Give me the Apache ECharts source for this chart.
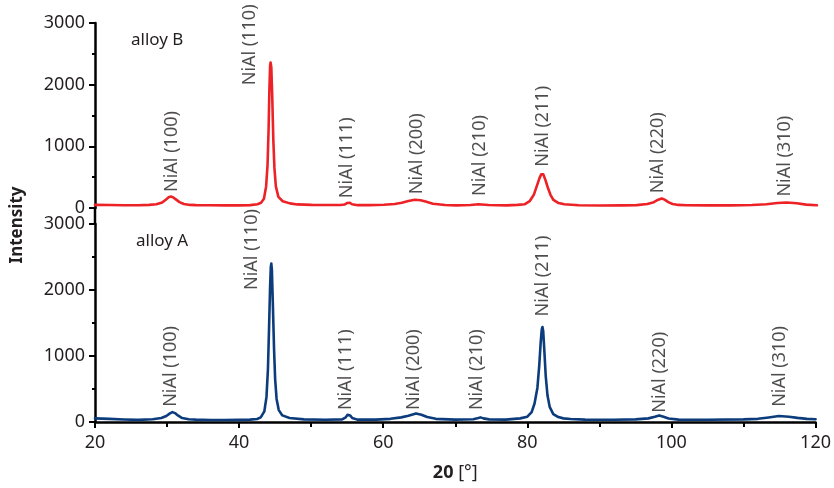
<!DOCTYPE html>
<html>
<head>
<meta charset="utf-8">
<script src="https://cdn.jsdelivr.net/npm/echarts@6/dist/echarts.min.js"></script>
<style>
html,body{margin:0;padding:0;background:#fff;}
#chart{width:834px;height:488px;}
</style>
</head>
<body>
<div id="chart"></div>
<script>
// ---- data (2θ in degrees, intensity) ----
const alloyB = [
  [20,50],[22,48],[24,45],[26,44],[27.5,50],[28.5,60],[29.3,90],[29.8,135],[30.2,175],[30.5,185],[30.8,175],[31.2,140],[31.7,95],[32.3,65],[33.2,50],
  [34,46],[36,44],[38,42],[40,42],[41.5,46],[42.5,60],[43,85],[43.4,150],[43.7,350],[43.9,700],[44.05,1300],[44.15,1900],[44.25,2300],[44.32,2360],
  [44.42,2280],[44.55,1800],[44.7,1100],[44.85,650],[45.05,350],[45.4,180],[46,110],[47,75],[48,58],
  [50,50],[52,48],[54,48],[54.6,58],[54.9,80],[55.1,105],[55.3,85],[55.6,60],[56.4,46],[58,46],[60,52],[61.5,65],[62.5,85],[63.4,115],[64.3,135],
  [65.1,125],[65.9,100],[66.8,70],[68.5,48],[70,42],[72,48],[73.1,60],[74.5,48],[77,42],[78.5,50],
  [79.5,60],[80.2,110],[80.8,220],[81.2,360],[81.55,480],[81.8,545],[81.95,565],[82.1,545],[82.4,450],[82.75,320],[83.1,210],[83.5,130],[84.2,80],[85,60],[87,45],
  [90,40],[93,42],[95,46],[96.5,65],[97.4,95],[98.0,135],[98.5,155],[98.9,135],[99.4,95],[100,65],[100.8,50],[102,45],[105,42],[108,42],[111,48],[113,62],
  [114.5,80],[115.8,90],[117.2,78],[118.5,55],[120,45]
];
const alloyA = [
  [20,55],[22,48],[24,38],[26,32],[28,42],[29.2,60],[29.9,90],[30.4,130],[30.75,150],[31.1,135],[31.5,100],[32.1,60],[33,42],[34,36],[36,30],[38,30],[40,32],
  [41.5,36],[42.5,45],[43,70],[43.5,160],[43.8,380],[44.0,800],[44.15,1400],[44.3,2050],[44.4,2350],[44.47,2400],[44.55,2300],[44.68,1800],
  [44.85,1100],[45.0,650],[45.2,350],[45.5,180],[46,100],[47,60],[49,40],
  [52,34],[54.3,40],[54.8,70],[55.05,110],[55.2,130],[55.4,100],[55.7,60],[56.4,36],[59,36],[61,48],[62.5,70],[63.5,95],[64.55,130],[65.3,110],
  [66.1,75],[67.3,48],[70,36],[72.5,42],[73.2,60],[73.5,70],[73.9,55],[74.7,40],[77,36],[79,55],
  [80,80],[80.6,150],[81,280],[81.4,520],[81.65,850],[81.85,1200],[82.0,1400],[82.1,1440],[82.2,1380],[82.35,1100],[82.55,700],[82.8,400],
  [83.1,230],[83.6,120],[84.3,75],[85,55],[86,46],[88,36],[92,35],[95,40],[96.8,55],[97.7,80],[98.3,100],[98.9,80],[99.6,52],[101,36],
  [105,35],[110,40],[112,48],[113.5,68],[114.9,90],[116.3,80],[117.5,62],[118.8,48],[120,42]
];
const hklLabels = ['NiAl (100)','NiAl (110)','NiAl (111)','NiAl (200)','NiAl (210)','NiAl (211)','NiAl (220)','NiAl (310)'];
const labelAngleB = [30.7, 41.5, 54.9, 64.6, 73.3, 82.05, 98.0, 115.6];
const labelBaseB  = [260, 1990, 160, 225, 195, 670, 240, 185];
const labelAngleA = [30.5, 41.8, 54.8, 64.3, 73.0, 82.1, 98.35, 115.1];
const labelBaseA  = [230, 2000, 180, 180, 180, 1600, 140, 230];
const xTicks = {min: 20, max: 120, interval: 20};
const yTicks = {min: 0, max: 3000, interval: 1000};

const TXT = '#231f20';
const FONT = '"Noto Sans", "Open Sans", sans-serif';

function yAxis(gi){
  return {
    type:'value', gridIndex: gi, min:yTicks.min, max:yTicks.max, interval:yTicks.interval,
    axisLine:{show:true, lineStyle:{color:'#000', width:2.5}},
    axisTick:{show:true, inside:false, length:6, lineStyle:{color:'#000', width:2}},
    minorTick:{show:true, splitNumber:2, length:3, lineStyle:{color:'#000', width:2}},
    splitLine:{show:false},
    axisLabel:{color:TXT, fontSize:18, fontFamily:FONT, margin:10, formatter: v => String(v)}
  };
}
function labelSeries(xi, angles, bases){
  return {
    type:'scatter', xAxisIndex:xi, yAxisIndex:xi, symbolSize:1, silent:true,
    itemStyle:{color:'rgba(0,0,0,0)'},
    data: angles.map((a,i)=>({value:[a, bases[i]], name:hklLabels[i]})),
    label:{show:true, position:'inside', rotate:90, align:'left', verticalAlign:'middle',
      formatter: p=>p.name, color:TXT, fontSize:18, fontFamily:FONT},
    z:5
  };
}
function curve(xi, data, color){
  return {type:'line', xAxisIndex:xi, yAxisIndex:xi, data:data, showSymbol:false, symbol:'none',
    lineStyle:{color:color, width:2.6, join:'round', cap:'round'}, z:3};
}

const chart = echarts.init(document.getElementById('chart'));
chart.setOption({
  animation:false,
  backgroundColor:'#fff',
  grid:[
    {left:95, right:17, top:23, height:185},
    {left:95, right:17, top:224, height:198}
  ],
  xAxis:[
    {type:'value', gridIndex:0, min:xTicks.min, max:xTicks.max, interval:xTicks.interval, show:false},
    {type:'value', gridIndex:1, min:xTicks.min, max:xTicks.max, interval:xTicks.interval,
      axisLine:{show:true, onZero:false, lineStyle:{color:'#000', width:2.5}},
      axisTick:{show:true, length:6, lineStyle:{color:'#000', width:2}},
      minorTick:{show:true, splitNumber:2, length:5, lineStyle:{color:'#000', width:2}},
      splitLine:{show:false},
      axisLabel:{color:TXT, fontSize:18, fontFamily:FONT, margin:12, formatter: v => String(v)},
      name:'{b|20} [°]', nameLocation:'middle', nameGap:42,
      nameTextStyle:{color:TXT, fontSize:18, fontFamily:FONT,
        rich:{b:{fontWeight:'bold', fontSize:18, fontFamily:FONT, color:TXT}}}
    }
  ],
  yAxis:[yAxis(0), yAxis(1)],
  graphic:[
    {type:'line', shape:{x1:95, y1:207, x2:95, y2:225}, style:{stroke:'#000', lineWidth:2.5}, z:10},
    {type:'text', left:131, top:32, style:{text:'alloy B', fill:TXT, fontSize:17, fontFamily:FONT}},
    {type:'text', left:136, top:233, style:{text:'alloy A', fill:TXT, fontSize:17, fontFamily:FONT}},
    {type:'text', x:17, y:225, rotation:Math.PI/2,
      style:{text:'Intensity', fill:TXT, fontSize:17, fontWeight:'bold', fontFamily:FONT, align:'center', verticalAlign:'middle'}}
  ],
  series:[
    curve(0, alloyB, '#ec2227'),
    curve(1, alloyA, '#0c3c7c'),
    labelSeries(0, labelAngleB, labelBaseB),
    labelSeries(1, labelAngleA, labelBaseA)
  ]
});
</script>
</body>
</html>
